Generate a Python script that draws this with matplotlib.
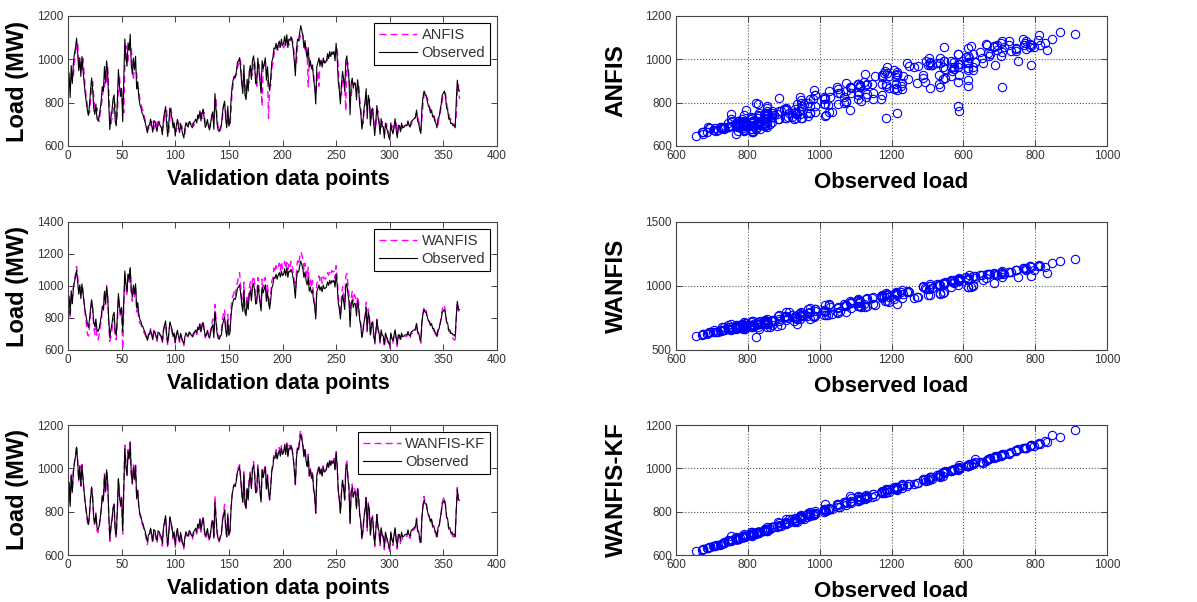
import numpy as np
import matplotlib.pyplot as plt

plt.rcParams['font.family'] = ['Liberation Sans', 'DejaVu Sans']

# observed daily load (MW), validation set, 365 points
observed = [
    936, 824, 971, 889, 983, 1027, 1054, 1098, 1031, 948,
    1007, 921, 1013, 952, 894, 843, 806, 768, 741, 787,
    857, 914, 862, 773, 746, 794, 727, 716, 733, 769,
    812, 874, 853, 967, 891, 993, 937, 792, 676, 731,
    764, 817, 836, 714, 693, 809, 953, 877, 829, 866,
    712, 907, 1094, 1011, 968, 1076, 1043, 1116, 973, 932,
    1006, 951, 1014, 863, 897, 826, 791, 778, 753, 744,
    723, 708, 684, 661, 693, 698, 724, 696, 664, 717,
    714, 687, 667, 712, 707, 693, 684, 652, 723, 756,
    782, 697, 644, 706, 776, 751, 728, 683, 707, 646,
    694, 723, 686, 662, 704, 678, 653, 637, 683, 708,
    693, 687, 713, 706, 692, 684, 707, 713, 724, 706,
    743, 727, 762, 716, 752, 771, 726, 686, 697, 722,
    689, 674, 706, 742, 758, 677, 842, 774, 704, 673,
    667, 686, 694, 753, 786, 807, 726, 684, 784, 692,
    707, 813, 874, 906, 923, 916, 944, 987, 993, 1008,
    953, 887, 842, 974, 836, 814, 908, 853, 946, 972,
    907, 994, 1016, 973, 887, 893, 1006, 954, 896, 844,
    993, 957, 983, 1007, 904, 966, 893, 856, 913, 987,
    1006, 1053, 1047, 1074, 1043, 1067, 1084, 1056, 1093, 1064,
    1073, 1107, 1064, 1114, 1054, 1094, 1087, 1104, 1083, 1047,
    993, 924, 1044, 1093, 1086, 1124, 1156, 1134, 1106, 1053,
    1087, 1033, 1007, 1054, 967, 993, 956, 974, 907, 873,
    794, 966, 984, 1007, 973, 996, 964, 1006, 983, 987,
    994, 1026, 1004, 1036, 1013, 1034, 1023, 1037, 993, 1074,
    1006, 894, 856, 794, 887, 944, 906, 853, 994, 1016,
    953, 907, 744, 886, 914, 866, 893, 887, 813, 906,
    864, 787, 753, 678, 714, 773, 806, 864, 726, 834,
    806, 694, 767, 774, 706, 648, 713, 787, 734, 707,
    654, 726, 693, 687, 636, 706, 684, 667, 643, 628,
    707, 674, 656, 693, 726, 673, 638, 696, 694, 666,
    706, 684, 686, 693, 696, 694, 716, 693, 687, 714,
    716, 724, 726, 734, 766, 714, 707, 673, 658, 774,
    826, 854, 836, 834, 807, 784, 776, 753, 766, 734,
    736, 714, 707, 684, 726, 734, 767, 794, 836, 844,
    854, 826, 774, 766, 724, 726, 703, 706, 693, 696,
    684, 807, 904, 856, 853,
]

anfis = [
    893, 872, 908, 936, 921, 984, 1036, 1057, 1072, 993,
    962, 984, 953, 1004, 938, 871, 826, 793, 747, 752,
    806, 863, 897, 826, 762, 758, 776, 737, 713, 748,
    787, 816, 884, 872, 946, 897, 967, 857, 746, 703,
    724, 757, 804, 793, 716, 743, 866, 924, 846, 838,
    797, 753, 976, 1063, 984, 994, 1057, 1043, 1056, 966,
    903, 976, 964, 934, 867, 863, 817, 796, 774, 763,
    743, 716, 704, 687, 676, 703, 694, 713, 686, 677,
    703, 714, 686, 677, 714, 703, 697, 676, 693, 733,
    754, 764, 688, 663, 727, 773, 743, 706, 694, 684,
    667, 703, 714, 683, 677, 693, 676, 663, 656, 694,
    704, 697, 703, 713, 697, 704, 692, 703, 714, 717,
    723, 744, 736, 754, 727, 763, 754, 707, 703, 706,
    713, 686, 693, 724, 753, 724, 768, 813, 733, 686,
    683, 667, 694, 727, 784, 793, 763, 703, 737, 724,
    693, 757, 846, 884, 907, 924, 927, 963, 977, 1004,
    986, 917, 874, 916, 893, 826, 857, 884, 896, 963,
    943, 927, 986, 994, 927, 876, 953, 976, 924, 866,
    784, 976, 964, 987, 953, 926, 727, 874, 877, 954,
    982, 1017, 1043, 1046, 1063, 1037, 1064, 1057, 1073, 1066,
    1053, 1067, 1084, 1077, 1084, 1066, 1083, 1087, 1096, 1064,
    1024, 967, 976, 1057, 1077, 1093, 1117, 1127, 1113, 1076,
    1046, 1064, 1017, 873, 1004, 966, 973, 957, 934, 886,
    837, 884, 946, 876, 993, 977, 984, 986, 994, 987,
    977, 1004, 1013, 1016, 1024, 1027, 1033, 1026, 1023, 1037,
    1053, 963, 877, 834, 836, 913, 917, 884, 763, 987,
    984, 926, 823, 817, 893, 887, 884, 887, 853, 867,
    883, 817, 773, 716, 704, 746, 793, 827, 784, 797,
    817, 743, 727, 773, 727, 684, 687, 754, 763, 716,
    684, 687, 713, 686, 664, 667, 703, 677, 663, 646,
    663, 694, 667, 684, 713, 704, 657, 673, 697, 683,
    677, 703, 687, 694, 697, 693, 707, 704, 693, 697,
    713, 723, 724, 733, 753, 743, 713, 687, 673, 727,
    793, 837, 853, 827, 823, 797, 783, 767, 757, 753,
    743, 727, 713, 703, 697, 733, 747, 783, 807, 843,
    847, 843, 797, 773, 753, 727, 723, 707, 703, 697,
    693, 737, 863, 883, 817,
]

wanfis = [
    917, 796, 947, 924, 993, 1046, 1074, 1123, 1063, 976,
    994, 957, 1006, 977, 886, 826, 774, 703, 687, 743,
    834, 903, 857, 746, 697, 764, 676, 663, 697, 744,
    776, 857, 846, 943, 883, 1004, 917, 757, 654, 683,
    723, 783, 797, 677, 664, 773, 927, 854, 803, 847,
    604, 863, 1077, 994, 937, 1073, 1024, 1103, 957, 904,
    993, 927, 1003, 837, 873, 787, 767, 763, 737, 724,
    707, 694, 677, 657, 703, 687, 733, 713, 677, 723,
    706, 683, 654, 707, 694, 697, 677, 643, 724, 747,
    763, 677, 633, 694, 767, 754, 707, 683, 687, 643,
    693, 707, 683, 647, 693, 667, 654, 627, 673, 687,
    687, 683, 704, 697, 693, 677, 694, 703, 723, 697,
    744, 727, 773, 707, 763, 783, 717, 677, 693, 723,
    693, 676, 724, 763, 793, 703, 884, 797, 717, 693,
    677, 693, 717, 793, 827, 854, 743, 697, 823, 703,
    724, 857, 917, 943, 964, 937, 993, 1024, 1057, 1083,
    1003, 913, 867, 1024, 853, 837, 943, 887, 984, 1027,
    934, 1037, 1063, 1017, 903, 927, 1053, 997, 913, 867,
    1043, 987, 1037, 1054, 937, 1004, 927, 873, 957, 1033,
    1047, 1113, 1087, 1127, 1103, 1107, 1143, 1097, 1153, 1107,
    1127, 1153, 1107, 1147, 1103, 1147, 1123, 1154, 1137, 1083,
    1037, 953, 1097, 1157, 1133, 1177, 1213, 1197, 1163, 1097,
    1143, 1097, 1053, 1117, 1007, 1053, 987, 1033, 927, 903,
    817, 1013, 1037, 1063, 1027, 1053, 1017, 1057, 1047, 1043,
    1057, 1083, 1067, 1093, 1077, 1097, 1087, 1093, 1047, 1127,
    1053, 937, 883, 817, 923, 997, 953, 897, 1063, 1077,
    1013, 947, 777, 923, 967, 903, 947, 927, 853, 937,
    897, 793, 767, 683, 717, 787, 813, 897, 713, 857,
    807, 687, 753, 777, 683, 637, 707, 793, 727, 693,
    643, 707, 687, 673, 617, 693, 677, 653, 627, 613,
    693, 667, 643, 687, 713, 667, 623, 683, 687, 653,
    693, 677, 673, 687, 683, 687, 703, 693, 673, 707,
    703, 717, 713, 727, 763, 707, 693, 667, 643, 777,
    833, 867, 843, 847, 803, 787, 773, 757, 753, 727,
    723, 707, 693, 677, 713, 737, 763, 807, 853, 877,
    883, 827, 777, 753, 717, 713, 697, 683, 673, 663,
    663, 793, 897, 843, 847,
]

wanfis_kf = [
    932, 834, 963, 896, 987, 1023, 1061, 1104, 1036, 941,
    1012, 917, 1018, 946, 893, 838, 797, 754, 731, 781,
    866, 908, 867, 764, 736, 788, 713, 703, 727, 763,
    807, 881, 848, 976, 887, 991, 932, 784, 663, 721,
    753, 812, 831, 703, 683, 803, 951, 873, 823, 862,
    697, 903, 1107, 1017, 962, 1087, 1053, 1123, 978, 927,
    1016, 947, 1024, 858, 903, 821, 784, 767, 744, 733,
    713, 697, 673, 648, 683, 687, 718, 684, 653, 706,
    707, 676, 654, 703, 696, 683, 673, 641, 716, 747,
    777, 686, 632, 697, 773, 743, 717, 674, 696, 636,
    684, 716, 674, 651, 694, 667, 643, 628, 673, 697,
    683, 677, 703, 697, 683, 673, 697, 704, 717, 697,
    737, 721, 767, 706, 746, 777, 719, 676, 688, 714,
    679, 664, 706, 753, 768, 687, 873, 784, 707, 668,
    661, 678, 698, 764, 797, 834, 728, 684, 793, 688,
    703, 817, 881, 911, 928, 921, 951, 996, 1003, 1018,
    958, 887, 846, 984, 838, 814, 913, 858, 951, 983,
    911, 1004, 1031, 978, 884, 898, 1016, 958, 893, 848,
    1003, 962, 993, 1017, 906, 971, 898, 853, 918, 997,
    1016, 1063, 1056, 1086, 1048, 1077, 1096, 1064, 1104, 1068,
    1086, 1111, 1071, 1124, 1061, 1106, 1093, 1112, 1094, 1051,
    997, 927, 1056, 1104, 1092, 1153, 1176, 1146, 1116, 1058,
    1096, 1038, 1012, 1066, 963, 998, 953, 986, 898, 868,
    792, 971, 991, 1013, 978, 1001, 968, 1011, 988, 993,
    1001, 1031, 1011, 1041, 1018, 1041, 1028, 1046, 998, 1082,
    1013, 898, 853, 793, 891, 946, 911, 858, 1017, 1041,
    961, 911, 748, 891, 927, 868, 906, 896, 814, 916,
    871, 784, 752, 668, 708, 781, 813, 877, 711, 843,
    808, 687, 758, 781, 688, 638, 707, 788, 728, 697,
    643, 718, 686, 676, 624, 697, 676, 654, 633, 617,
    698, 663, 644, 686, 717, 663, 627, 687, 688, 654,
    698, 673, 676, 684, 687, 686, 708, 683, 676, 708,
    708, 717, 718, 728, 771, 707, 698, 663, 646, 776,
    834, 871, 843, 846, 811, 791, 772, 753, 761, 727,
    728, 707, 697, 673, 717, 728, 763, 801, 846, 861,
    866, 831, 777, 758, 718, 717, 697, 697, 684, 686,
    674, 804, 912, 853, 847,
]

model_names = ['ANFIS', 'WANFIS', 'WANFIS-KF']
model_series = [anfis, wanfis, wanfis_kf]

line_ylims = [(600, 1200), (600, 1400), (600, 1200)]
line_yticks = [[600, 800, 1000, 1200], [600, 800, 1000, 1200, 1400], [600, 800, 1000, 1200]]
line_xticks = [0, 50, 100, 150, 200, 250, 300, 350, 400]

sc_ylims = [(600, 1200), (500, 1500), (600, 1200)]
sc_yticks = [[600, 800, 1000, 1200], [500, 1000, 1500], [600, 800, 1000, 1200]]
sc_xticks = [600, 700, 800, 900, 1000, 1100, 1200]
sc_xticklabels = ['600', '800', '1000', '1200', '600', '800', '1000']

# axes boxes in pixels: (top, bottom) for each row
rows_px = [(16, 146), (222, 350), (425, 555)]
W, H = 1197, 602
left_x = (68, 497)
right_x = (676, 1107)

days = np.arange(1, len(observed) + 1)

fig = plt.figure(figsize=(W / 100, H / 100), dpi=100)


def style_axes(ax):
    for s in ax.spines.values():
        s.set_color('#444444')
        s.set_linewidth(0.8)
    ax.tick_params(direction='in', top=True, right=True, length=4, width=0.7,
                   colors='#444444', labelcolor='#333333', labelsize=8.5, pad=3)


for i in range(3):
    top, bot = rows_px[i]
    y0 = 1 - bot / H
    h = (bot - top) / H

    # time series panel
    ax = fig.add_axes([left_x[0] / W, y0, (left_x[1] - left_x[0]) / W, h])
    ax.plot(days, model_series[i], '--', color='#ff00ff', lw=1.0, dashes=(5, 3),
            label=model_names[i])
    ax.plot(days, observed, '-', color='k', lw=0.8, label='Observed')
    ax.set_xlim(0, 400)
    ax.set_ylim(*line_ylims[i])
    ax.set_xticks(line_xticks)
    ax.set_yticks(line_yticks[i])
    style_axes(ax)
    ax.set_xlabel('Validation data points', fontsize=15.5, fontweight='bold')
    ax.set_ylabel('Load (MW)', fontsize=17, fontweight='bold')
    ax.xaxis.set_label_coords(0.49, -0.18)
    ax.yaxis.set_label_coords(-0.092, 0.5)
    leg = ax.legend(loc='upper right', fontsize=10.5, handlelength=2.6,
                    fancybox=False, framealpha=1, borderaxespad=0.45,
                    borderpad=0.35, labelspacing=0.3, handletextpad=0.3)
    leg.get_frame().set_edgecolor('k')
    leg.get_frame().set_linewidth(0.8)
    for t in leg.get_texts():
        t.set_color('#333333')

    # scatter panel
    ax2 = fig.add_axes([right_x[0] / W, y0, (right_x[1] - right_x[0]) / W, h])
    ax2.plot(observed, model_series[i], 'o', mfc='none', mec='#0000ff', ms=6, mew=0.8)
    ax2.set_xlim(600, 1200)
    ax2.set_ylim(*sc_ylims[i])
    ax2.set_xticks(sc_xticks)
    ax2.set_xticklabels(sc_xticklabels)
    ax2.set_yticks(sc_yticks[i])
    ax2.grid(True, linestyle=':', color='#555555', linewidth=0.8)
    style_axes(ax2)
    ax2.set_xlabel('Observed load', fontsize=16, fontweight='bold')
    ax2.set_ylabel(model_names[i], fontsize=17.5, fontweight='bold')
    ax2.xaxis.set_label_coords(0.5, -0.2)
    ax2.yaxis.set_label_coords(-0.112, 0.5)

fig.savefig('out.png', dpi=100)
